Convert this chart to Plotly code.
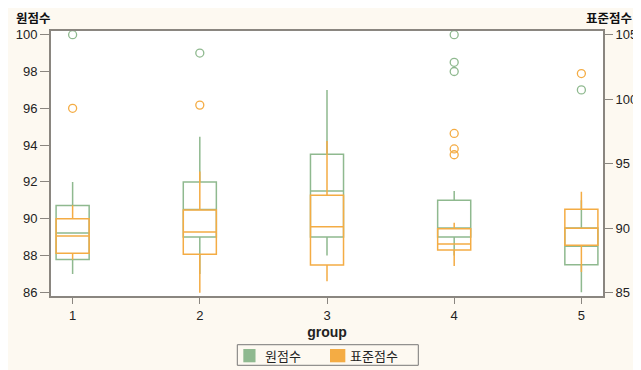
import plotly.graph_objects as go

groups = [1, 2, 3, 4, 5]

# 원점수 (left axis)
raw_min = [87.0, 87.0, 88.0, 88.0, 86.0]
raw_q1 = [87.78, 89.0, 89.0, 89.0, 87.5]
raw_med = [89.23, 90.5, 91.5, 89.5, 88.5]
raw_q3 = [90.72, 92.0, 93.5, 91.0, 89.5]
raw_max = [92.0, 94.45, 97.0, 91.5, 91.0]
raw_out_x = [1, 2, 4, 4, 4, 5]
raw_out_y = [100.0, 99.0, 100.0, 98.5, 98.0, 97.0]

# 표준점수 (right axis)
std_min = [87.55, 85.0, 85.88, 87.07, 86.6]
std_q1 = [88.05, 87.97, 87.14, 88.3, 88.67]
std_med = [89.4, 89.7, 90.12, 88.77, 90.0]
std_q3 = [90.74, 91.41, 92.55, 89.96, 91.47]
std_max = [91.78, 94.39, 96.77, 90.43, 92.83]
std_out_x = [1, 2, 4, 4, 4, 5]
std_out_y = [99.3, 99.55, 97.35, 96.15, 95.7, 102.0]

series_names = ["원점수", "표준점수"]

GREEN = "rgb(143,185,143)"
ORANGE = "rgb(244,172,68)"
NUMFONT = "Liberation Sans, Arial, sans-serif"
KRFONT = "Noto Sans CJK KR, sans-serif"
BG = "#FDF9F1"

fig = go.Figure()

fig.add_trace(go.Box(
    x=groups, q1=raw_q1, median=raw_med, q3=raw_q3,
    lowerfence=raw_min, upperfence=raw_max,
    name=series_names[0], yaxis="y", boxpoints=False, width=0.26,
    whiskerwidth=0, line=dict(color=GREEN, width=1.5),
    fillcolor="rgba(0,0,0,0)", showlegend=False, hoverinfo="skip"))
fig.add_trace(go.Box(
    x=groups, q1=std_q1, median=std_med, q3=std_q3,
    lowerfence=std_min, upperfence=std_max,
    name=series_names[1], yaxis="y2", boxpoints=False, width=0.26,
    whiskerwidth=0, line=dict(color=ORANGE, width=1.5),
    fillcolor="rgba(0,0,0,0)", showlegend=False, hoverinfo="skip"))

fig.add_trace(go.Scatter(
    x=raw_out_x, y=raw_out_y, mode="markers", yaxis="y", showlegend=False,
    marker=dict(symbol="circle-open", size=8, color=GREEN, line=dict(width=1.3))))
fig.add_trace(go.Scatter(
    x=std_out_x, y=std_out_y, mode="markers", yaxis="y2", showlegend=False,
    marker=dict(symbol="circle-open", size=8, color=ORANGE, line=dict(width=1.3))))

# manual legend (paper coordinates below the plot area)
shapes = [
    dict(type="rect", xref="paper", yref="paper", x0=0.3375, x1=0.6654, y0=-0.2615, y1=-0.1838,
         line=dict(color="#777", width=1), fillcolor=BG, layer="above"),
    dict(type="rect", xref="paper", yref="paper", x0=0.3484, x1=0.3705, y0=-0.2502, y1=-0.2,
         line=dict(width=0), fillcolor=GREEN, layer="above"),
    dict(type="rect", xref="paper", yref="paper", x0=0.5054, x1=0.5332, y0=-0.2502, y1=-0.2,
         line=dict(width=0), fillcolor=ORANGE, layer="above"),
]

annotations = [
    dict(text="<b>원점수</b>", x=0, y=1, xref="paper", yref="paper", xanchor="left",
         yanchor="middle", xshift=-36, yshift=14, showarrow=False, borderpad=0,
         font=dict(family=KRFONT, size=12.5, color="#111")),
    dict(text="<b>표준점수</b>", x=1, y=1, xref="paper", yref="paper", xanchor="right",
         yanchor="middle", xshift=30, yshift=14, showarrow=False, borderpad=0,
         font=dict(family=KRFONT, size=12.5, color="#111")),
    dict(text=series_names[0], x=0.3846, y=-0.2245, xref="paper", yref="paper",
         xanchor="left", yanchor="middle", showarrow=False,
         font=dict(family=KRFONT, size=13, color="#222")),
    dict(text=series_names[1], x=0.5386, y=-0.2245, xref="paper", yref="paper",
         xanchor="left", yanchor="middle", showarrow=False,
         font=dict(family=KRFONT, size=13, color="#222")),
]

fig.update_layout(
    width=633, height=362,
    margin=dict(l=43, r=38, t=23, b=74, autoexpand=False),
    paper_bgcolor=BG, plot_bgcolor="white",
    boxmode="overlay", showlegend=False,
    font=dict(family=NUMFONT, size=13, color="#222"),
    xaxis=dict(range=[0.83, 5.17], tickvals=groups, ticktext=[str(g) for g in groups],
               showline=True, linecolor="#8a8680", linewidth=2, mirror=True,
               ticks="outside", ticklen=6, tickcolor="#8a8680", showgrid=False,
               zeroline=False, automargin=False,
               title=dict(text="<b>group</b>", font=dict(family=NUMFONT, size=14), standoff=6)),
    yaxis=dict(range=[85.8, 100.2], tickvals=[86, 88, 90, 92, 94, 96, 98, 100],
               showline=True, linecolor="#8a8680", linewidth=2, automargin=False,
               ticks="outside", ticklen=9, tickcolor="#8a8680", showgrid=False,
               zeroline=False),
    yaxis2=dict(range=[84.74, 105.3], tickvals=[85, 90, 95, 100, 105], overlaying="y",
                side="right", showline=True, linecolor="#8a8680", linewidth=2,
                ticks="outside", ticklen=8, tickcolor="#8a8680", showgrid=False,
                zeroline=False, automargin=False),
    shapes=shapes,
    annotations=annotations,
)

fig.write_html("out.html")
